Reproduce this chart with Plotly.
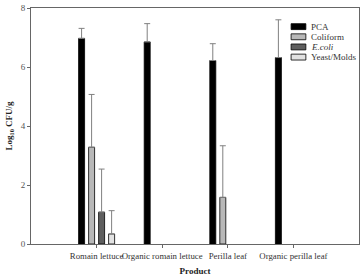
import plotly.graph_objects as go

categories = ["Romain lettuce", "Organic romain lettuce", "Perilla leaf", "Organic perilla leaf"]
series_names = ["PCA", "Coliform", "<i>E.coli</i>", "Yeast/Molds"]
pca = [6.97, 6.85, 6.22, 6.32]
pca_err = [0.34, 0.62, 0.57, 1.28]
coliform = [3.28, None, 1.58, None]
coliform_err = [1.79, None, 1.75, None]
ecoli = [1.08, None, None, None]
ecoli_err = [1.46, None, None, None]
yeast = [0.34, None, None, None]
yeast_err = [0.79, None, None, None]
y_ticks = [0, 2, 4, 6, 8]

colors = ["#000000", "#b8b8b8", "#5e5e5e", "#e2e2e2"]
values = [pca, coliform, ecoli, yeast]
errors = [pca_err, coliform_err, ecoli_err, yeast_err]

fig = go.Figure()
for name, vals, errs, col in zip(series_names, values, errors, colors):
    fig.add_trace(go.Bar(
        name=name, x=categories, y=vals, showlegend=False,
        marker=dict(color=col, line=dict(color="#000", width=0.8)),
        error_y=dict(type="data", symmetric=False, array=errs,
                     arrayminus=[0] * len(errs), color="#808080", thickness=1, width=3),
    ))

# custom legend (paper coordinates)
leg_x0, leg_x1, leg_tx = 0.793, 0.838, 0.848
leg_y_top, leg_dy, leg_h = 0.921, 0.043, 0.0125
for i, (name, col) in enumerate(zip(series_names, colors)):
    yc = leg_y_top - i * leg_dy
    fig.add_shape(type="rect", xref="paper", yref="paper", x0=leg_x0, x1=leg_x1,
                  y0=yc - leg_h, y1=yc + leg_h, fillcolor=col, line=dict(color="#000", width=0.8))
    fig.add_annotation(xref="paper", yref="paper", x=leg_tx, y=yc, text=name, showarrow=False,
                       xanchor="left", yanchor="middle", font=dict(size=9, color="#333"))

fig.update_layout(
    width=361, height=276,
    margin=dict(l=31, r=2, t=8, b=32),
    paper_bgcolor="white", plot_bgcolor="white",
    barmode="group", bargap=0.39, bargroupgap=0.4,
    font=dict(family="Liberation Serif", size=9, color="#333"),
    showlegend=False,
    xaxis=dict(range=[-1, 4], showline=True, linecolor="#666", linewidth=1, mirror=True,
               ticks="outside", ticklen=3, tickcolor="#666", showgrid=False, tickangle=0,
               automargin=False,
               tickfont=dict(size=8.8, color="#333"),
               title=dict(text="<b>Product</b>", font=dict(size=9, color="#222"), standoff=10)),
    yaxis=dict(range=[0, 8], tickvals=y_ticks, showline=True, linecolor="#666", linewidth=1, mirror=True,
               ticks="outside", ticklen=3, tickcolor="#666", showgrid=False, zeroline=False,
               automargin=False,
               tickfont=dict(size=9, color="#555"),
               title=dict(text="<b>Log<sub>10</sub> CFU/g</b>", font=dict(size=9, color="#222"), standoff=6)),
)

fig.write_html("out.html")
